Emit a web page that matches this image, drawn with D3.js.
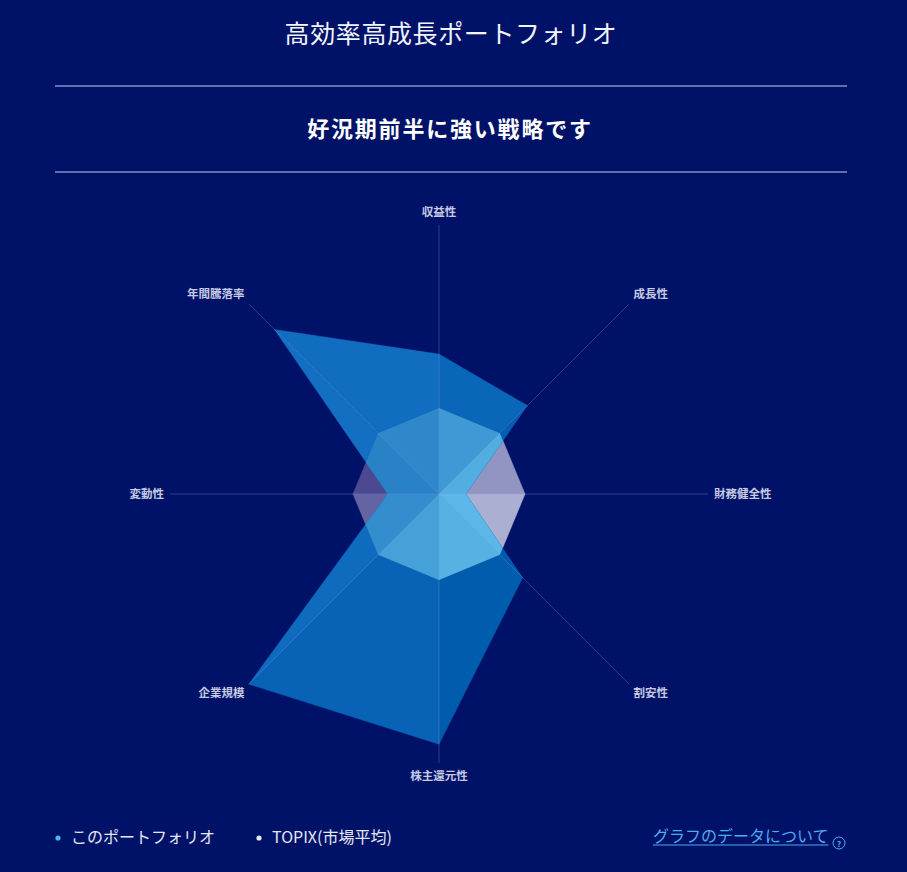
<!DOCTYPE html>
<html lang="ja">
<head>
  <meta charset="UTF-8">
  <title>高効率高成長ポートフォリオ</title>
  <script src="https://d3js.org/d3.v7.min.js"></script>
  <style>
    body {
      margin: 0;
      overflow: hidden;
      background: #001268;
    }
    svg {
      display: block;
      font-family: "Noto Sans CJK JP", "Noto Sans", sans-serif;
    }
  </style>
</head>
<body>
  <script>
    // chart data
    const title = "高効率高成長ポートフォリオ";
    const subtitle = "好況期前半に強い戦略です";
    const categories = ["収益性", "成長性", "財務健全性", "割安性", "株主還元性", "企業規模", "変動性", "年間騰落率"];
    const portfolioValues = [52, 46.5, 10, 44, 93, 100, 19, 86.5];
    const topixValues = [32, 32, 32, 32, 32, 32, 32, 32];
    const legendLabels = ["このポートフォリオ", "TOPIX(市場平均)"];
    const linkText = "グラフのデータについて";

    const width = 907;
    const height = 872;
    const cx = 439, cy = 494, R = 269;

    const svg = d3.select("body")
      .append("svg")
      .attr("width", width)
      .attr("height", height);

    // header
    svg.append("text")
      .attr("x", 451).attr("y", 32)
      .attr("text-anchor", "middle")
      .attr("dominant-baseline", "central")
      .attr("fill", "#f2f4fb")
      .attr("font-size", 25)
      .attr("font-weight", 400)
      .attr("letter-spacing", 0.6)
      .text(title);

    svg.append("text")
      .attr("x", 450).attr("y", 127)
      .attr("text-anchor", "middle")
      .attr("dominant-baseline", "central")
      .attr("fill", "#ffffff")
      .attr("font-size", 22)
      .attr("font-weight", 700)
      .attr("letter-spacing", 1.8)
      .text(subtitle);

    [86, 172].forEach(y => {
      svg.append("line")
        .attr("x1", 55).attr("x2", 847)
        .attr("y1", y).attr("y2", y)
        .attr("stroke", "#7f90c8")
        .attr("stroke-width", 1.5);
    });

    // radar scale
    const r = d3.scaleLinear().domain([0, 100]).range([0, R]);
    const n = categories.length;
    const step = 2 * Math.PI / n;
    const ang = i => i * step;
    const pt = (i, v) => [cx + Math.sin(ang(i)) * r(v), cy - Math.cos(ang(i)) * r(v)];

    // facet lighting: colour depends on which way the facet faces
    function shade(i, lightDeg, dark, light) {
      const mid = ang(i) + step / 2;
      const s = (Math.cos(mid - lightDeg * Math.PI / 180) + 1) / 2;
      return d3.interpolateRgb(dark, light)(s);
    }

    const facet = (vals, i) => {
      const j = (i + 1) % n;
      return "M" + cx + "," + cy + "L" + pt(i, vals[i]).join(",") + "L" + pt(j, vals[j]).join(",") + "Z";
    };

    const g = svg.append("g");

    // TOPIX polygon used as clip for the overlap
    svg.append("defs").append("clipPath")
      .attr("id", "topixClip")
      .append("path")
      .attr("d", d3.line()(topixValues.map((v, i) => pt(i, v))) + "Z");

    const topixCol = i => shade(i, 130, "#4a4790", "#adb1d4");
    const pfCol = i => shade(i, 300, "#005aac", "#126fc2");
    const overlapCol = i => shade(i, 120, "#2a82c6", "#5cb8e8");

    g.selectAll("path.topix")
      .data(d3.range(n))
      .enter().append("path")
      .attr("class", "topix")
      .attr("d", i => facet(topixValues, i))
      .attr("fill", topixCol)
      .attr("stroke", topixCol)
      .attr("stroke-width", 0.4);

    g.selectAll("path.pf")
      .data(d3.range(n))
      .enter().append("path")
      .attr("class", "pf")
      .attr("d", i => facet(portfolioValues, i))
      .attr("fill", pfCol)
      .attr("stroke", pfCol)
      .attr("stroke-width", 0.4);

    g.append("g")
      .attr("clip-path", "url(#topixClip)")
      .selectAll("path")
      .data(d3.range(n))
      .enter().append("path")
      .attr("d", i => facet(portfolioValues, i))
      .attr("fill", overlapCol)
      .attr("stroke", overlapCol)
      .attr("stroke-width", 0.4);

    // axes on top
    g.selectAll("line.axis")
      .data(d3.range(n))
      .enter().append("line")
      .attr("class", "axis")
      .attr("x1", cx).attr("y1", cy)
      .attr("x2", i => pt(i, 100)[0])
      .attr("y2", i => pt(i, 100)[1])
      .attr("stroke", "rgba(130,160,235,0.3)")
      .attr("stroke-width", 1);

    // axis labels
    g.selectAll("text.lbl")
      .data(categories)
      .enter().append("text")
      .attr("class", "lbl")
      .attr("x", (d, i) => cx + Math.sin(ang(i)) * 275)
      .attr("y", (d, i) => cy - Math.cos(ang(i)) * 282 - 1.5)
      .attr("text-anchor", (d, i) => {
        const s = Math.sin(ang(i));
        return s > 0.01 ? "start" : s < -0.01 ? "end" : "middle";
      })
      .attr("dominant-baseline", "central")
      .attr("fill", "#c6cae2")
      .attr("font-size", 11.5)
      .attr("font-weight", 700)
      .text(d => d);

    // legend
    const legendColors = ["#4fb4ec", "#e6e8f2"];
    const legendX = [58, 259];
    legendLabels.forEach((t, i) => {
      svg.append("circle")
        .attr("cx", legendX[i]).attr("cy", 838).attr("r", 2.6)
        .attr("fill", legendColors[i]);
      svg.append("text")
        .attr("x", legendX[i] + 13).attr("y", 836)
        .attr("dominant-baseline", "central")
        .attr("fill", "#e4e7f3")
        .attr("font-size", 16)
        .text(t);
    });

    // data link
    const link = svg.append("text")
      .attr("x", 653).attr("y", 835)
      .attr("dominant-baseline", "central")
      .attr("fill", "#4caaf2")
      .attr("font-size", 16)
      .text(linkText);
    const lw = link.node().getComputedTextLength();
    svg.append("line")
      .attr("x1", 653).attr("x2", 653 + lw)
      .attr("y1", 845).attr("y2", 845)
      .attr("stroke", "#4caaf2")
      .attr("stroke-width", 1);

    svg.append("circle")
      .attr("cx", 839).attr("cy", 843).attr("r", 6)
      .attr("fill", "none")
      .attr("stroke", "#4caaf2")
      .attr("stroke-width", 1);
    svg.append("text")
      .attr("x", 839).attr("y", 843.5)
      .attr("text-anchor", "middle")
      .attr("dominant-baseline", "central")
      .attr("fill", "#4caaf2")
      .attr("font-size", 8)
      .attr("font-weight", 700)
      .text("?");
  </script>
</body>
</html>
